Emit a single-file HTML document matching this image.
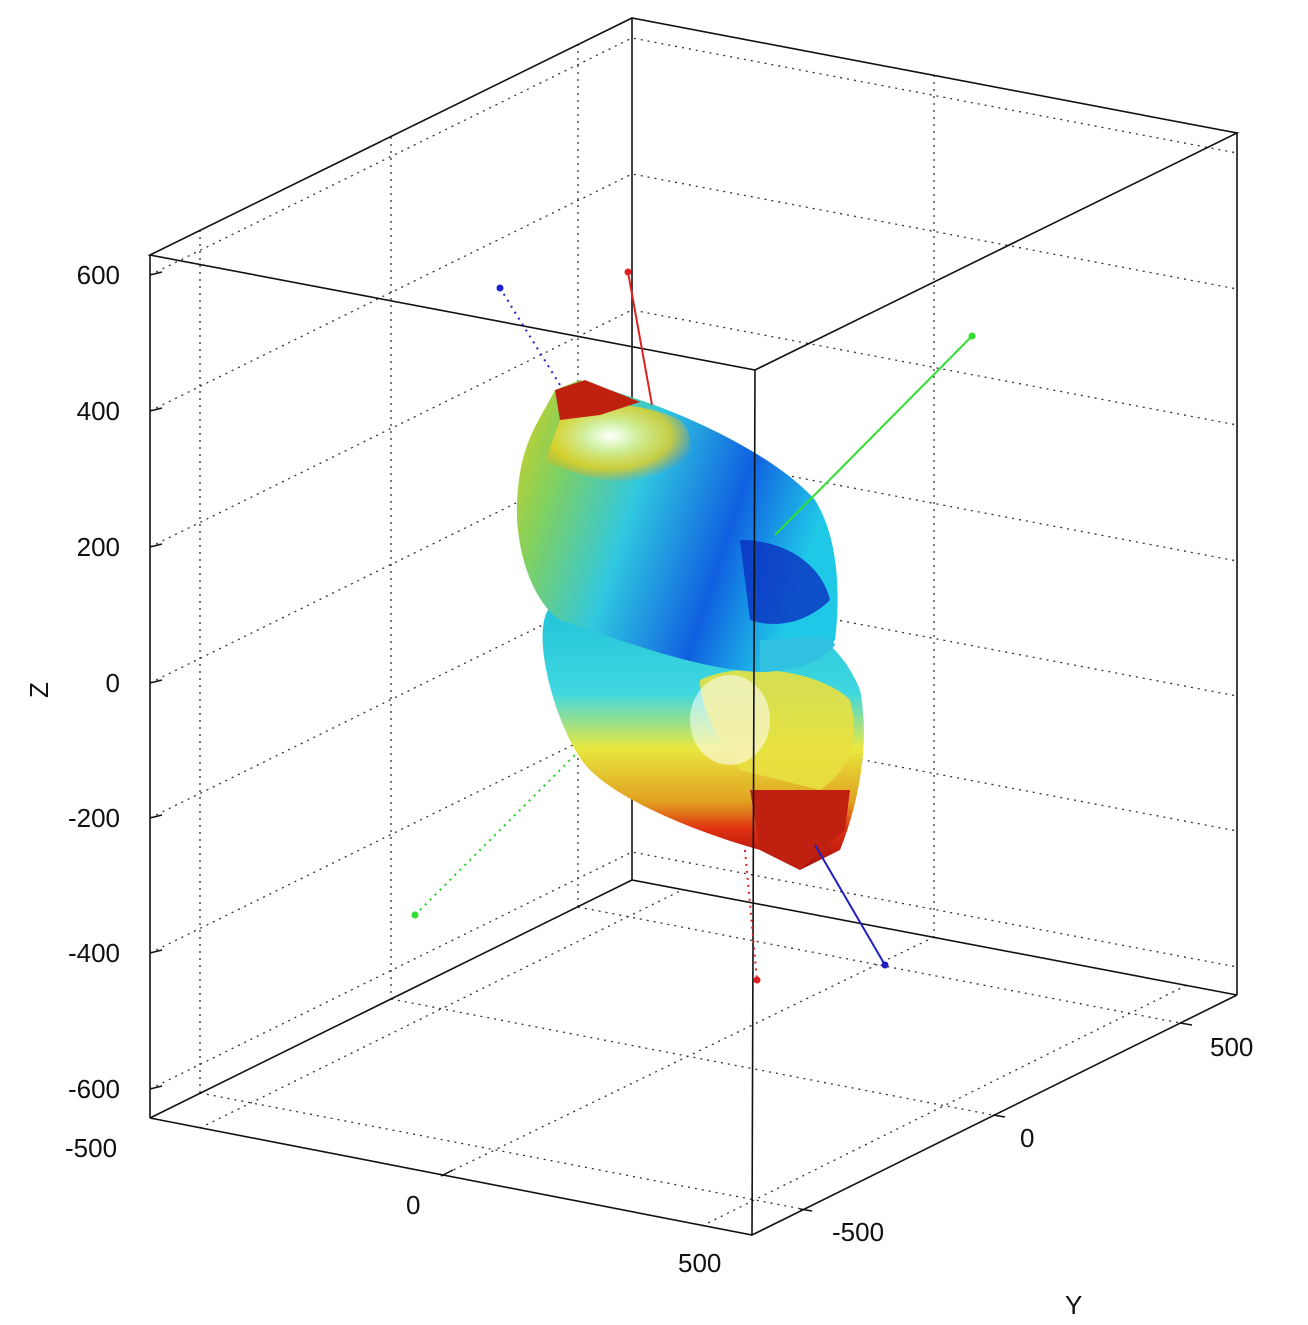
<!DOCTYPE html>
<html><head><meta charset="utf-8"><style>
html,body{margin:0;padding:0;background:#fff;}
svg text{font-family:"Liberation Sans",sans-serif;font-size:26px;fill:#111;}
</style></head><body>
<svg width="1308" height="1320" viewBox="0 0 1308 1320" xmlns="http://www.w3.org/2000/svg">
<defs>
<linearGradient id="g1" x1="0" y1="0" x2="1" y2="0.3">
<stop offset="0" stop-color="#d8d020"/><stop offset="0.2" stop-color="#80d060"/><stop offset="0.45" stop-color="#30c8e0"/><stop offset="0.75" stop-color="#1060e0"/><stop offset="1" stop-color="#20c8e8"/>
</linearGradient>
<linearGradient id="g2" x1="0" y1="0" x2="0" y2="1">
<stop offset="0" stop-color="#20c0d8"/><stop offset="0.35" stop-color="#40d8e0"/><stop offset="0.55" stop-color="#e8e840"/><stop offset="0.75" stop-color="#e0a020"/><stop offset="0.85" stop-color="#e03010"/><stop offset="1" stop-color="#a01010"/>
</linearGradient>
<radialGradient id="g3" cx="0.45" cy="0.4" r="0.6">
<stop offset="0" stop-color="#ffffff"/><stop offset="0.3" stop-color="#d0f0a0"/><stop offset="0.7" stop-color="#e8d020" stop-opacity="0.8"/><stop offset="1" stop-color="#e8a020" stop-opacity="0"/>
</radialGradient>
</defs>
<g fill="none" stroke="#333" stroke-width="1.3" stroke-dasharray="2,5">
<polyline points="150,275 632,38 1237,153"/>
<polyline points="150,411 632,174 1237,289"/>
<polyline points="150,547 632,310 1237,425"/>
<polyline points="150,683 632,446 1237,561"/>
<polyline points="150,818 632,581 1237,696"/>
<polyline points="150,953 632,716 1237,831"/>
<polyline points="150,1089 632,852 1237,967"/>
<line x1="391" y1="137" x2="391" y2="999"/>
<line x1="200" y1="230" x2="200" y2="1093"/>
<line x1="578" y1="44" x2="578" y2="907"/>
<line x1="934" y1="75" x2="934" y2="937"/>
<line x1="391" y1="999" x2="993" y2="1115"/>
<line x1="200" y1="1093" x2="802" y2="1209"/>
<line x1="578" y1="907" x2="1180" y2="1023"/>
<line x1="441" y1="1176" x2="934" y2="937"/>
<line x1="200" y1="1128" x2="682" y2="890"/>
<line x1="702" y1="1226" x2="1187" y2="985"/>
</g>
<g fill="none" stroke="#111" stroke-width="1.6">
<polygon points="150,255 632,18 1237,133 755,370"/>
<line x1="150" y1="255" x2="150" y2="1118"/>
<line x1="632" y1="18" x2="632" y2="880"/>
<line x1="1237" y1="133" x2="1237" y2="995"/>
<polyline points="150,1118 632,880 1237,995"/>
<polyline points="150,1118 752,1235 1237,995"/>
</g>
<line x1="500" y1="288" x2="560" y2="385" stroke="#2020d0" stroke-width="2" stroke-dasharray="2,5"/>
<line x1="415" y1="915" x2="580" y2="750" stroke="#20d020" stroke-width="2" stroke-dasharray="2,5"/>
<path d="M548,610 C530,640 560,740 590,770 C620,800 690,830 760,850 L800,870 L840,850 C860,800 870,740 860,690 C840,640 800,620 760,610 C690,600 600,590 548,610 Z" fill="url(#g2)"/>
<path d="M700,680 C740,660 820,670 850,700 C860,740 850,770 820,790 L740,770 C720,740 700,710 700,680 Z" fill="#e8e040" opacity="0.9"/>
<path d="M750,790 L850,790 L845,830 L800,870 L760,850 Z" fill="#c02010"/>
<ellipse cx="730" cy="720" rx="40" ry="45" fill="#ffffff" opacity="0.55"/>
<path d="M555,390 L580,380 L640,400 C700,420 780,460 815,500 C840,540 840,600 835,640 C820,660 790,670 760,672 C700,670 620,640 560,620 C530,600 512,540 518,490 C522,440 540,420 555,390 Z" fill="url(#g1)"/>
<path d="M560,420 C580,400 640,400 680,420 C700,440 690,470 660,480 C620,490 560,470 545,460 Z" fill="url(#g3)"/>
<path d="M555,390 L585,380 L640,402 L600,415 L560,420 Z" fill="#c02010"/>
<path d="M740,540 C780,540 820,560 830,600 C810,620 780,630 750,620 Z" fill="#0a30c0" opacity="0.8"/>
<path d="M760,640 C790,640 830,630 835,645 C820,665 785,672 760,672 Z" fill="#30c0e0"/>
<line x1="755" y1="370" x2="752" y2="1235" stroke="#111" stroke-width="1.6"/>
<line x1="628" y1="272" x2="652" y2="405" stroke="#e02020" stroke-width="2"/>
<line x1="972" y1="336" x2="775" y2="535" stroke="#30e030" stroke-width="2"/>
<line x1="815" y1="845" x2="885" y2="965" stroke="#2020c0" stroke-width="2"/>
<line x1="745" y1="850" x2="757" y2="980" stroke="#e02020" stroke-width="2" stroke-dasharray="2,5"/>
<g>
<circle cx="628" cy="272" r="3.5" fill="#e02020"/>
<circle cx="500" cy="288" r="3.5" fill="#2020d0"/>
<circle cx="972" cy="336" r="3.5" fill="#30e030"/>
<circle cx="415" cy="915" r="3.5" fill="#30e030"/>
<circle cx="885" cy="965" r="3.5" fill="#2020c0"/>
<circle cx="757" cy="980" r="3.5" fill="#e02020"/>
</g>
<g stroke="#111" stroke-width="1.5">
<line x1="150" y1="275" x2="162" y2="272"/><line x1="150" y1="411" x2="162" y2="408"/>
<line x1="150" y1="547" x2="162" y2="544"/><line x1="150" y1="683" x2="162" y2="680"/>
<line x1="150" y1="818" x2="162" y2="815"/><line x1="150" y1="953" x2="162" y2="950"/>
<line x1="150" y1="1089" x2="162" y2="1086"/>
<line x1="441" y1="1176" x2="453" y2="1170"/>
<line x1="993" y1="1115" x2="1005" y2="1117"/>
<line x1="1180" y1="1023" x2="1192" y2="1025"/>
<line x1="800" y1="1209" x2="812" y2="1211"/>
</g>
<g text-anchor="end">
<text x="120" y="284">600</text><text x="120" y="420">400</text><text x="120" y="556">200</text>
<text x="120" y="692">0</text><text x="120" y="827">-200</text><text x="120" y="962">-400</text>
<text x="120" y="1098">-600</text>
</g>
<text x="65" y="1157">-500</text>
<text x="406" y="1214">0</text>
<text x="678" y="1272">500</text>
<text x="832" y="1241">-500</text>
<text x="1020" y="1147">0</text>
<text x="1210" y="1056">500</text>
<text x="1065" y="1314">Y</text>
<text x="0" y="0" transform="translate(48,690) rotate(-90)" text-anchor="middle">Z</text>
</svg>
</body></html>
